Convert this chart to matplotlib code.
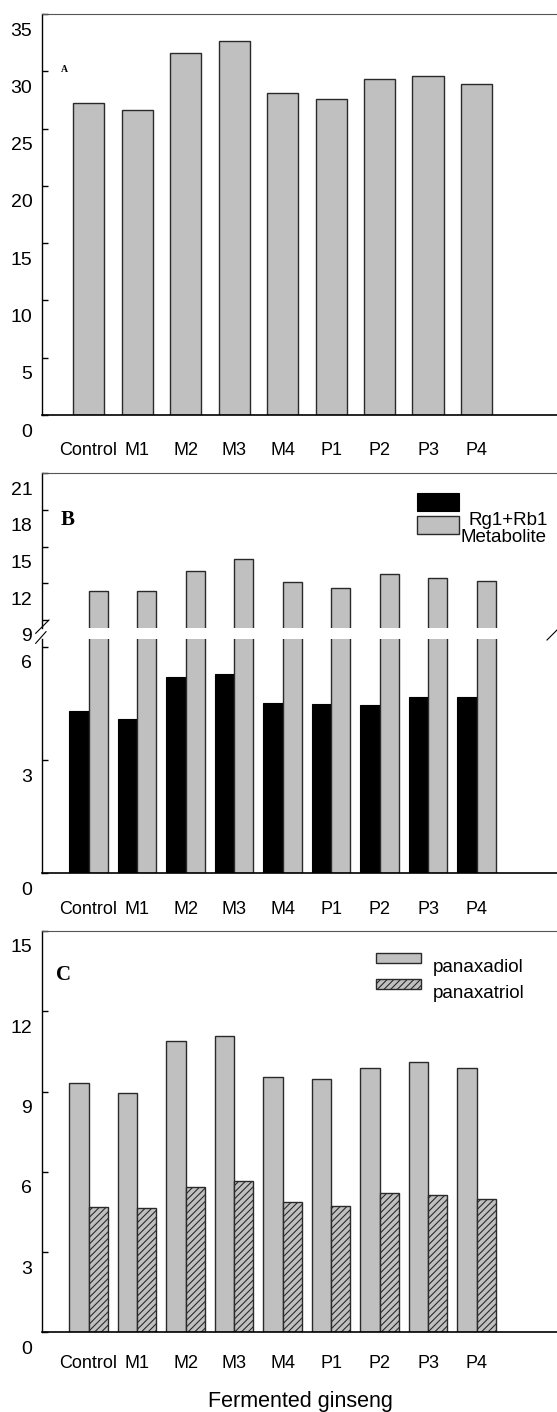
import matplotlib
matplotlib.use('Agg')
import matplotlib.pyplot as plt
from matplotlib import transforms
from matplotlib.patches import Rectangle
from matplotlib.lines import Line2D
import numpy as np

# values
samples = ['Control', 'M1', 'M2', 'M3', 'M4', 'P1', 'P2', 'P3', 'P4']
total_a = [27.24, 26.66, 31.63, 32.64, 28.08, 27.59, 29.36, 29.60, 28.93]
rg1_rb1 = [4.30, 4.08, 5.21, 5.28, 4.50, 4.48, 4.45, 4.68, 4.67]
metabolite = [11.33, 11.38, 13.02, 13.97, 12.09, 11.63, 12.72, 12.42, 12.17]
panaxadiol = [9.32, 8.95, 10.87, 11.07, 9.53, 9.48, 9.88, 10.09, 9.87]
panaxatriol = [4.70, 4.66, 5.42, 5.67, 4.86, 4.73, 5.19, 5.14, 4.97]

ticks_a = [0, 5, 10, 15, 20, 25, 30, 35]
ticks_b_low = [0, 3, 6]
ticks_b_high = [9, 12, 15, 18, 21]
ticks_c = [0, 3, 6, 9, 12, 15]

W, H = 557, 1412
GRAY = '#c0c0c0'
EDGE = '#2a2a2a'

plt.rcParams['font.family'] = ['Liberation Sans', 'DejaVu Sans']
plt.rcParams['hatch.linewidth'] = 0.8

fig = plt.figure(figsize=(W / 100, H / 100), dpi=100)


def px_box(top, bottom, left=42, right=557):
    return [left / W, 1 - bottom / H, (right - left) / W, (bottom - top) / H]


def fx(x):
    return x / W


def fy(y):
    return 1 - y / H


def style(ax, yticks, xpad, top=True, bottom=True):
    ax.set_xlim(-0.96, 9.66)
    ax.spines['right'].set_visible(False)
    ax.spines['top'].set_visible(top)
    ax.spines['top'].set_color('#555555')
    ax.spines['bottom'].set_visible(bottom)
    ax.spines['bottom'].set_linewidth(1.2)
    ax.spines['left'].set_linewidth(1.0)
    ax.set_yticks(yticks)
    ax.tick_params(axis='y', direction='in', length=4.5, width=1, pad=7,
                   labelsize=14)
    ax.set_xticks(np.arange(len(samples)))
    if bottom:
        ax.set_xticklabels(samples)
        ax.tick_params(axis='x', length=0, labelsize=13, pad=xpad)
    else:
        ax.set_xticklabels([])
        ax.tick_params(axis='x', length=0)
    # y labels sit a little below their ticks in the reference
    off = transforms.ScaledTranslation(0, -0.15, fig.dpi_scale_trans)
    for lab in ax.get_yticklabels():
        lab.set_transform(lab.get_transform() + off)


x = np.arange(len(samples))

# ---- panel A
ax_a = fig.add_axes(px_box(14, 415))
ax_a.bar(x, total_a, width=0.64, color=GRAY, edgecolor=EDGE, linewidth=1.0)
ax_a.set_ylim(0, 35)
style(ax_a, ticks_a, xpad=19.5)
fig.text(fx(64.5), fy(69.5), 'A', family='Liberation Serif',
         weight='bold', fontsize=7, ha='center', va='center')

# ---- panel B (broken axis)
ax_b_hi = fig.add_axes(px_box(473.3, 628))
ax_b_lo = fig.add_axes(px_box(638.5, 873.3))
for ax in (ax_b_hi, ax_b_lo):
    ax.bar(x - 0.2, rg1_rb1, width=0.4, color='black', edgecolor='black',
           linewidth=0.8)
    ax.bar(x + 0.2, metabolite, width=0.4, color=GRAY, edgecolor=EDGE,
           linewidth=1.0)
ax_b_hi.set_ylim(8.34, 21)
ax_b_lo.set_ylim(0, 6.22)
style(ax_b_hi, ticks_b_high, xpad=0, top=True, bottom=False)
style(ax_b_lo, ticks_b_low, xpad=20, top=False, bottom=True)

for (x1, y1, x2, y2) in [(35.7, 633.3, 49, 620), (35.7, 643.3, 46, 631.7),
                         (547, 640, 557, 630)]:
    fig.add_artist(Line2D([fx(x1), fx(x2)], [fy(y1), fy(y2)],
                          color='black', lw=0.8))

fig.text(fx(67.5), fy(520), 'B', family='Liberation Serif',
         weight='bold', fontsize=15, ha='center', va='center')

fig.add_artist(Rectangle((fx(417), fy(510.7)), fx(42), 18 / H,
                         facecolor='black', edgecolor='black', lw=0.8,
                         transform=fig.transFigure))
fig.add_artist(Rectangle((fx(417), fy(534)), fx(42), 18 / H,
                         facecolor=GRAY, edgecolor=EDGE, lw=1.0,
                         transform=fig.transFigure))
fig.text(fx(469), fy(520), 'Rg1+Rb1', fontsize=13.5, va='center')
fig.text(fx(460), fy(537), 'Metabolite', fontsize=13.5, va='center')

# ---- panel C
ax_c = fig.add_axes(px_box(931, 1332.3))
ax_c.bar(x - 0.2, panaxadiol, width=0.4, color=GRAY, edgecolor=EDGE,
         linewidth=1.0)
ax_c.bar(x + 0.2, panaxatriol, width=0.4, color=GRAY, edgecolor=EDGE,
         linewidth=1.0, hatch='/////')
ax_c.set_ylim(0, 15)
style(ax_c, ticks_c, xpad=16)

fig.text(fx(63.5), fy(975), 'C', family='Liberation Serif',
         weight='bold', fontsize=15, ha='center', va='center')

fig.add_artist(Rectangle((fx(376), fy(963)), fx(45), 10 / H,
                         facecolor=GRAY, edgecolor=EDGE, lw=1.0,
                         transform=fig.transFigure))
fig.add_artist(Rectangle((fx(376), fy(989)), fx(45), 10 / H,
                         facecolor=GRAY, edgecolor=EDGE, lw=1.0,
                         hatch='/////', transform=fig.transFigure))
fig.text(fx(433), fy(967), 'panaxadiol', fontsize=13.5, va='center')
fig.text(fx(433), fy(994), 'panaxatriol', fontsize=13.5, va='center')

fig.text(fx(300), fy(1391), 'Fermented ginseng', fontsize=15.5,
         ha='center', va='top')

fig.savefig('out.png', dpi=100)
